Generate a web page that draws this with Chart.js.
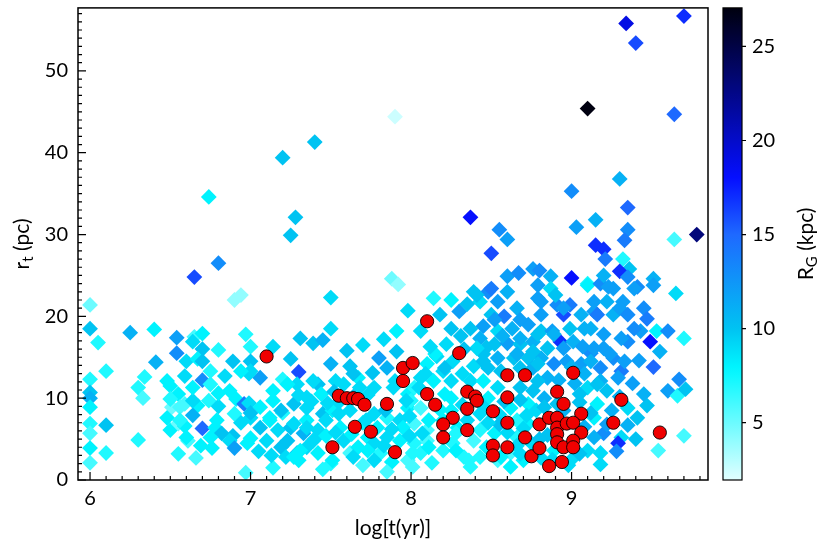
<!DOCTYPE html>
<html>
<head>
<meta charset="utf-8">
<script src="https://cdn.jsdelivr.net/npm/chart.js@4.4.0/dist/chart.umd.min.js"></script>
<style>
  html, body { margin: 0; padding: 0; background: #fff; }
  #wrap { width: 822px; height: 549px; }
</style>
</head>
<body>
<div id="wrap"><canvas id="c"></canvas></div>
<script>
'use strict';

// axis ticks
const X_TICKS = [6, 7, 8, 9];
const Y_TICKS = [0, 10, 20, 30, 40, 50];
const CB_TICKS = [5, 10, 15, 20, 25];

// field clusters: log age, tidal radius (pc), galactocentric radius (kpc)
const DIAMOND_LOGT = [
  7.90, 7.40, 7.20, 6.74, 7.28, 7.25, 6.80, 6.65, 7.88, 7.92,
  9.70, 9.34, 9.40, 9.10, 9.64, 9.30, 9.00, 8.37, 9.35, 9.15,
  8.55, 8.60, 9.03, 9.35, 9.33, 9.78, 9.64, 8.50, 9.15, 9.20,
  9.21, 9.32, 9.36, 9.30, 8.60, 8.67, 8.76, 8.80, 8.87, 9.00,
  9.51, 9.10, 7.50, 8.14, 6.94, 6.90, 6.00, 7.50, 6.97, 7.83,
  6.00, 6.05, 6.10, 6.00, 6.00, 6.00, 6.00, 6.00, 6.00, 6.00,
  6.00, 6.10, 6.10, 6.25, 6.40, 6.41, 6.34, 6.30, 6.33, 6.30,
  6.54, 6.54, 6.65, 6.70, 6.70, 6.80, 6.89, 6.60, 6.67, 6.75,
  6.70, 6.84, 6.50, 6.55, 6.59, 6.51, 6.67, 6.74, 6.80, 6.87,
  6.91, 6.90, 6.64, 6.70, 6.78, 6.82, 6.89, 6.50, 6.55, 6.59,
  6.61, 6.69, 6.76, 6.55, 6.66, 6.97, 7.00, 7.00, 7.00, 6.96,
  7.31, 7.39, 7.45, 7.14, 7.25, 7.30, 7.50, 7.06, 7.20, 7.14,
  7.29, 7.42, 7.35, 7.44, 7.06, 7.00, 7.12, 7.20, 7.27, 7.35,
  7.45, 7.06, 7.17, 7.25, 7.33, 7.42, 6.98, 7.10, 7.19, 7.35,
  7.42, 7.58, 7.56, 7.29, 7.30, 7.14, 7.62, 7.67, 7.73, 7.77,
  7.81, 7.85, 7.93, 7.79, 7.85, 7.77, 7.93, 7.98, 7.91, 7.80,
  7.85, 7.76, 7.67, 7.58, 7.68, 7.77, 7.89, 7.98, 7.62, 7.51,
  7.62, 7.70, 7.55, 7.64, 7.48, 7.22, 7.50, 7.88, 7.70, 7.40,
  8.18, 8.30, 8.39, 8.43, 8.48, 8.54, 8.60, 8.50, 8.58, 8.66,
  8.81, 8.87, 8.79, 8.91, 8.95, 8.73, 8.81, 8.88, 8.93, 8.63,
  8.54, 8.45, 8.37, 8.25, 8.43, 8.52, 8.60, 8.68, 8.76, 8.85,
  8.81, 8.89, 8.97, 8.73, 8.64, 8.54, 8.45, 8.39, 8.48, 8.56,
  8.76, 8.85, 8.16, 8.10, 8.20, 8.26, 8.06, 8.14, 8.25, 8.37,
  8.45, 8.54, 8.68, 8.76, 8.83, 8.91, 8.73, 8.62, 8.48, 8.25,
  8.02, 8.00, 8.06, 8.25, 8.43, 8.66, 8.73, 8.02, 8.10, 8.10,
  8.02, 8.29, 8.43, 8.39, 8.52, 8.66, 8.62, 8.70, 8.81, 8.26,
  8.20, 8.33, 8.37, 8.06, 7.98, 8.43, 8.54, 8.89, 8.32, 8.58,
  9.10, 9.18, 9.26, 9.41, 9.51, 9.65, 9.14, 9.22, 9.32, 8.99,
  9.06, 9.14, 9.26, 9.45, 9.47, 9.43, 9.53, 9.60, 9.70, 9.49,
  9.35, 9.20, 9.12, 8.99, 9.01, 9.12, 9.26, 9.06, 9.18, 9.51,
  9.31, 9.18, 9.10, 9.22, 9.67, 9.60, 9.66, 9.71, 9.47, 9.41,
  9.35, 9.35, 9.16, 9.14, 9.20, 9.31, 9.29, 9.14, 9.10, 9.70,
  9.54, 9.18, 9.05, 9.08, 9.00,
  6.64, 6.70, 6.48, 6.59, 6.75, 6.99, 6.94, 7.23, 7.39, 6.50,
  6.56, 6.64, 6.99, 7.14, 7.19, 7.35, 6.48, 6.56, 6.79, 6.94,
  7.00, 7.12, 7.27, 7.35, 6.60, 6.75, 6.87, 6.90, 7.00, 7.05,
  7.13, 7.23, 7.31, 7.39, 7.27, 7.64, 7.53, 7.90, 8.09, 8.21,
  8.15, 8.05, 7.97, 7.73, 7.84, 7.99, 8.11, 8.07, 7.95, 7.88,
  7.72, 7.55, 7.47, 7.47, 7.53, 7.63, 7.83, 7.99, 8.11, 8.01,
  7.73, 7.64, 7.51, 7.77, 8.01, 8.13, 8.28, 8.28, 8.20, 8.36,
  8.21, 8.32, 9.20, 9.35, 9.23, 9.39, 8.50, 8.41, 8.35, 8.52,
  8.79, 8.90, 8.95, 8.81, 8.68, 9.16, 9.30, 9.35, 9.39, 9.31,
  9.20, 9.08, 8.89, 8.79, 8.68, 8.57, 8.47, 8.41, 8.45, 8.66,
  8.76, 8.95, 9.07, 9.14, 9.24, 9.33, 9.12, 9.00, 8.79, 8.68,
  8.79, 8.92, 9.08, 9.29, 9.16, 8.45, 8.55, 8.68, 8.78, 8.70,
  8.55, 8.47, 8.60, 8.75, 8.68, 8.85, 8.95, 9.05, 9.12, 9.25,
  9.22, 9.28, 9.18, 9.05, 9.40, 9.45, 9.38, 8.98, 8.62, 7.98,
  8.06, 7.91, 8.12, 8.31, 8.25,
  8.66, 8.80, 8.72, 8.83, 8.56, 8.78, 8.88, 7.38, 7.52, 7.30,
  6.80, 6.64, 8.22, 8.33, 9.42, 9.55, 7.45, 7.85, 8.18, 8.35,
  7.60, 7.70, 9.02, 8.48, 9.30
];
const DIAMOND_RT = [
  44.4, 41.3, 39.4, 34.6, 32.1, 29.9, 26.5, 24.8, 24.6, 23.9,
  56.7, 55.8, 53.4, 45.4, 44.7, 36.8, 35.3, 32.1, 33.3, 31.8,
  30.6, 29.4, 30.9, 30.6, 29.3, 30.0, 29.4, 27.7, 28.7, 28.2,
  27.0, 27.0, 25.8, 25.5, 24.9, 25.3, 25.8, 25.6, 24.9, 24.7,
  24.6, 24.0, 22.3, 22.2, 22.6, 22.0, 21.4, 18.5, 17.8, 17.2,
  18.5, 16.8, 13.3, 12.3, 10.7, 10.0, 8.9, 6.9, 5.7, 3.9,
  2.1, 6.7, 3.3, 18.0, 18.4, 14.4, 12.6, 11.3, 10.0, 4.9,
  17.4, 15.5, 17.5, 17.9, 16.0, 15.9, 14.5, 14.5, 14.8, 13.3,
  12.2, 12.7, 11.5, 10.5, 9.3, 8.9, 9.1, 9.7, 9.0, 10.9,
  9.9, 8.1, 7.9, 6.3, 6.4, 5.7, 5.4, 6.1, 6.9, 6.6,
  4.8, 4.2, 3.9, 3.2, 2.7, 0.9, 16.3, 14.5, 13.3, 9.3,
  17.3, 16.7, 17.1, 16.3, 14.8, 13.2, 14.2, 12.5, 12.3, 10.9,
  11.7, 11.7, 10.1, 10.5, 8.9, 7.6, 7.6, 8.2, 9.3, 7.3,
  8.1, 6.4, 6.1, 6.4, 5.7, 6.1, 4.5, 4.8, 4.0, 4.0,
  3.3, 4.8, 6.4, 3.3, 2.4, 1.5, 3.3, 4.0, 5.2, 4.5,
  3.3, 5.2, 4.8, 6.4, 7.6, 8.1, 7.3, 8.8, 15.7, 14.9,
  13.7, 13.1, 12.5, 11.7, 11.3, 11.3, 11.3, 10.5, 13.9, 8.5,
  8.5, 7.0, 9.5, 10.2, 9.4, 2.8, 2.0, 2.2, 1.8, 5.0,
  20.2, 20.6, 23.0, 21.8, 23.0, 21.8, 23.0, 20.2, 20.0, 21.0,
  21.8, 23.4, 23.8, 21.4, 20.2, 19.0, 18.2, 18.2, 16.9, 18.5,
  18.2, 18.8, 18.5, 18.5, 17.3, 16.6, 16.7, 16.6, 16.9, 16.1,
  14.9, 14.2, 14.5, 14.9, 14.9, 14.9, 15.4, 13.9, 13.7, 13.3,
  13.7, 12.5, 15.1, 14.2, 13.3, 14.5, 12.5, 12.1, 12.1, 12.1,
  12.1, 11.3, 11.3, 10.9, 10.0, 9.3, 9.3, 8.8, 10.0, 10.0,
  11.3, 9.7, 8.8, 8.5, 8.1, 7.3, 6.9, 6.9, 6.1, 4.8,
  4.5, 6.4, 6.1, 4.8, 5.7, 5.2, 3.3, 2.4, 2.7, 4.5,
  3.6, 2.8, 1.6, 3.3, 2.4, 2.8, 2.4, 3.6, 9.2, 9.6,
  23.8, 24.0, 23.4, 23.6, 23.8, 22.8, 21.8, 21.8, 21.8, 21.4,
  20.2, 20.6, 20.2, 21.0, 19.7, 18.2, 18.2, 18.2, 17.3, 16.9,
  16.9, 16.1, 18.5, 18.5, 16.9, 15.5, 14.9, 14.2, 13.7, 13.8,
  13.3, 12.1, 11.3, 10.9, 12.3, 10.9, 10.3, 11.1, 9.1, 7.6,
  8.8, 6.7, 9.3, 7.6, 5.7, 5.2, 4.5, 5.2, 3.6, 5.4,
  3.6, 3.3, 9.5, 6.5, 2.5,
  16.9, 14.5, 12.1, 12.7, 11.7, 13.0, 13.3, 11.7, 12.1, 9.9,
  8.9, 9.7, 9.4, 9.7, 8.5, 8.8, 7.6, 7.3, 7.3, 7.0,
  8.2, 7.3, 6.9, 6.4, 5.2, 5.2, 4.8, 3.9, 5.1, 3.5,
  3.0, 4.8, 3.6, 4.8, 2.8, 13.0, 12.1, 12.1, 13.0, 13.7,
  15.4, 11.3, 9.7, 10.4, 8.5, 7.8, 7.3, 5.7, 6.4, 6.2,
  7.3, 8.1, 7.3, 5.4, 5.8, 5.6, 4.2, 5.4, 4.0, 3.3,
  3.6, 2.8, 2.4, 2.4, 1.6, 2.1, 3.6, 5.7, 7.3, 2.4,
  10.5, 13.0, 25.0, 24.8, 23.6, 23.4, 23.4, 22.6, 21.5, 19.6,
  22.2, 22.6, 21.0, 20.2, 19.6, 20.2, 21.0, 20.2, 18.5, 17.3,
  17.8, 18.5, 17.8, 17.8, 17.3, 17.6, 16.2, 16.1, 14.5, 15.4,
  15.7, 16.1, 16.3, 16.1, 15.4, 14.5, 14.5, 13.8, 14.2, 13.7,
  12.1, 12.2, 13.0, 12.5, 11.7, 9.0, 8.0, 9.8, 8.5, 6.3,
  6.8, 4.0, 5.8, 4.5, 3.2, 5.5, 8.5, 10.5, 8.2, 8.5,
  6.8, 3.5, 1.9, 3.2, 5.0, 10.5, 11.8, 1.8, 1.6, 20.7,
  18.2, 18.2, 16.3, 17.6, 22.0,
  4.2, 5.0, 7.9, 8.9, 2.8, 3.4, 2.5, 9.6, 10.8, 10.4,
  10.6, 11.3, 16.6, 16.0, 14.6, 15.7, 1.3, 1.0, 8.6, 7.3,
  15.8, 16.5, 11.8, 7.0, 10.2
];
const DIAMOND_RG = [
  2.5, 10, 10, 8, 10, 10, 13, 16, 5, 4,
  17, 19, 16, 27, 15, 11, 13, 18, 15, 11,
  13, 12, 12, 13, 14, 23, 6, 16, 17, 17,
  14, 7, 10, 17, 12, 13, 12, 13, 11, 18,
  11, 7, 9, 7, 4, 4, 5, 9, 7, 9,
  10, 7, 7, 7, 10, 11, 8, 7, 6, 8,
  6, 10, 7, 11, 8, 11, 7, 7, 6, 7,
  12, 13, 6, 8, 10, 7, 10, 9, 8, 7,
  13, 9, 8, 8, 6, 5, 8, 7, 9, 8,
  8, 7, 11, 15, 8, 10, 10, 8, 5, 8,
  6, 8, 8, 7, 6, 6, 7, 10, 9, 14,
  10, 10, 11, 9, 10, 16, 11, 12, 7, 8,
  9, 10, 9, 8, 8, 9, 8, 7, 10, 8,
  10, 10, 9, 10, 11, 9, 8, 9, 10, 9,
  8, 9, 8, 10, 8, 7, 6, 8, 8, 9,
  7, 9, 8, 8, 7, 9, 9, 8, 10, 12,
  11, 10, 8, 9, 9, 9, 9, 8, 10, 8,
  9, 8, 9, 10, 9, 9, 7, 8, 6, 9,
  10, 12, 10, 9, 13, 12, 11, 10, 14, 11,
  12, 9, 12, 13, 16, 12, 10, 12, 17, 11,
  9, 12, 10, 10, 11, 10, 12, 10, 11, 10,
  11, 13, 12, 10, 10, 11, 10, 9, 10, 10,
  11, 11, 9, 8, 9, 9, 9, 8, 9, 9,
  8, 9, 10, 10, 11, 10, 8, 8, 8, 8,
  7, 7, 6, 8, 9, 7, 8, 6, 6, 6,
  7, 8, 7, 6, 8, 7, 6, 8, 9, 7,
  7, 7, 7, 7, 6, 7, 6, 8, 9, 10,
  8, 13, 12, 13, 12, 9, 12, 11, 12, 14,
  11, 12, 11, 13, 14, 12, 8, 13, 7, 18,
  13, 12, 11, 10, 11, 13, 13, 12, 13, 15,
  14, 11, 9, 10, 13, 12, 7, 10, 10, 10,
  9, 11, 8, 8, 13, 9, 17, 11, 9, 6,
  6, 9, 10, 11, 9,
  9, 10, 8, 9, 7, 9, 8, 8, 9, 7,
  6, 9, 9, 8, 10, 9, 8, 7, 8, 9,
  10, 8, 9, 9, 8, 8, 9, 12, 8, 9,
  9, 10, 8, 9, 8, 10, 9, 9, 9, 10,
  8, 9, 9, 9, 10, 9, 8, 9, 8, 9,
  9, 9, 9, 8, 9, 8, 9, 9, 8, 7,
  8, 9, 8, 9, 6, 7, 8, 7, 8, 7,
  8, 9, 11, 13, 12, 12, 14, 10, 10, 12,
  12, 10, 12, 12, 12, 14, 12, 13, 13, 12,
  12, 11, 11, 10, 11, 11, 10, 9, 10, 11,
  10, 12, 12, 12, 12, 12, 11, 11, 10, 10,
  10, 11, 11, 12, 10, 9, 9, 10, 9, 9,
  10, 8, 9, 9, 9, 10, 11, 10, 10, 11,
  12, 13, 9, 10, 10, 11, 12, 9, 8, 9,
  9, 8, 9, 10, 8,
  9, 10, 9, 10, 8, 10, 9, 9, 10, 9,
  8, 8, 9, 10, 12, 11, 7, 6, 8, 9,
  10, 9, 11, 9, 11
];

// red circles: comparison sample
const CIRCLE_LOGT = [
  7.10, 7.51, 7.55, 7.60, 7.64, 7.67, 7.71, 7.65, 7.75, 7.85,
  7.90, 7.95, 7.95, 8.01, 8.10, 8.30, 8.10, 8.15, 8.35, 8.40,
  8.41, 8.35, 8.26, 8.20, 8.20, 8.35, 8.51, 8.60, 8.71, 8.60,
  8.60, 8.51, 8.51, 8.60, 8.71, 8.75, 8.80, 8.86, 8.80, 8.86,
  8.91, 8.91, 8.91, 8.91, 8.95, 8.94, 8.91, 8.95, 9.01, 8.97,
  9.06, 9.01, 9.06, 9.01, 9.01, 9.31, 9.26, 9.55
];
const CIRCLE_RT = [
  15.1, 4.0, 10.3, 10.0, 10.0, 9.9, 9.2, 6.5, 5.9, 9.3,
  3.4, 13.7, 12.1, 14.3, 19.4, 15.5, 10.5, 9.2, 10.8, 10.2,
  9.7, 8.7, 7.6, 6.8, 5.2, 6.1, 8.4, 12.8, 12.8, 10.1,
  7.0, 4.2, 3.0, 4.0, 5.2, 2.9, 3.9, 1.7, 6.8, 7.6,
  7.6, 6.4, 5.6, 4.6, 4.0, 2.2, 10.8, 9.3, 13.1, 6.9,
  8.1, 7.0, 5.8, 4.8, 4.0, 9.8, 7.0, 5.8
];

const RG_MIN = 1.95;
const RG_MAX = 27.05;

// colormap stops (value -> rgb)
const CMAP = [
  [1.95, [225, 255, 255]],
  [7.8, [0, 248, 255]],
  [10, [0, 195, 242]],
  [15, [30, 105, 255]],
  [18, [5, 15, 255]],
  [27.05, [0, 0, 15]]
];

function cmapRgb(v) {
  if (v <= CMAP[0][0]) return CMAP[0][1];
  for (let i = 1; i < CMAP.length; i++) {
    if (v <= CMAP[i][0]) {
      const [v0, c0] = CMAP[i - 1];
      const [v1, c1] = CMAP[i];
      const t = (v - v0) / (v1 - v0);
      return c0.map((c, k) => Math.round(c + (c1[k] - c) * t));
    }
  }
  return CMAP[CMAP.length - 1][1];
}
function cmapCss(v) {
  const c = cmapRgb(v);
  return `rgb(${c[0]},${c[1]},${c[2]})`;
}

const FONT = 'Lato, "DejaVu Sans", sans-serif';

const diamonds = DIAMOND_LOGT.map((x, i) => ({ x: x, y: DIAMOND_RT[i] }));
const circles = CIRCLE_LOGT.map((x, i) => ({ x: x, y: CIRCLE_RT[i] }));

function drawSubTitle(ctx, x, y, base, sub, rest, size) {
  ctx.save();
  ctx.translate(x, y);
  ctx.rotate(-Math.PI / 2);
  ctx.fillStyle = '#000';
  ctx.textBaseline = 'middle';
  ctx.textAlign = 'left';
  const big = `${size}px ${FONT}`;
  const small = `${Math.round(size * 0.72)}px ${FONT}`;
  ctx.font = big;
  const w1 = ctx.measureText(base).width;
  const w3 = ctx.measureText(rest).width;
  ctx.font = small;
  const w2 = ctx.measureText(sub).width;
  let cx = -(w1 + w2 + w3) / 2;
  ctx.font = big;
  ctx.fillText(base, cx, 0);
  cx += w1;
  ctx.font = small;
  ctx.fillText(sub, cx, size * 0.3);
  cx += w2;
  ctx.font = big;
  ctx.fillText(rest, cx, 0);
  ctx.restore();
}

const framePlugin = {
  id: 'frame',
  afterDraw(chart) {
    const ctx = chart.ctx;
    const a = chart.chartArea;
    const xs = chart.scales.x;
    const ys = chart.scales.y;
    const cb = chart.scales.cb;
    ctx.save();
    ctx.strokeStyle = '#000';
    ctx.lineWidth = 1.5;
    ctx.strokeRect(a.left, a.top, a.right - a.left, a.bottom - a.top);

    // inward ticks, bottom axis
    ctx.lineWidth = 1.2;
    ctx.beginPath();
    for (let i = 60; i <= 98; i++) {
      const px = xs.getPixelForValue(i / 10);
      const len = i % 10 === 0 ? 8 : 4;
      ctx.moveTo(px, a.bottom);
      ctx.lineTo(px, a.bottom - len);
    }
    // inward ticks, left axis
    for (let i = 0; i <= 57; i++) {
      const py = ys.getPixelForValue(i);
      const len = i % 10 === 0 ? 8 : 4;
      ctx.moveTo(a.left, py);
      ctx.lineTo(a.left + len, py);
    }
    ctx.stroke();

    // colour bar
    const barL = cb.left + 15;
    const barW = 19;
    const yTop = cb.getPixelForValue(RG_MAX);
    const yBot = cb.getPixelForValue(RG_MIN);
    const grad = ctx.createLinearGradient(0, yBot, 0, yTop);
    for (let i = 0; i <= 50; i++) {
      const v = RG_MIN + (RG_MAX - RG_MIN) * i / 50;
      grad.addColorStop(i / 50, cmapCss(v));
    }
    ctx.fillStyle = grad;
    ctx.fillRect(barL, yTop, barW, yBot - yTop);
    ctx.lineWidth = 1.2;
    ctx.strokeRect(barL, yTop, barW, yBot - yTop);
    ctx.beginPath();
    CB_TICKS.forEach(v => {
      const py = cb.getPixelForValue(v);
      ctx.moveTo(barL + barW, py);
      ctx.lineTo(barL + barW + 4, py);
    });
    ctx.stroke();
    ctx.restore();

    drawSubTitle(ctx, 22, (a.top + a.bottom) / 2, 'r', 't', ' (pc)', 21);
    drawSubTitle(ctx, 806, (a.top + a.bottom) / 2, 'R', 'G', ' (kpc)', 21);
  }
};

new Chart(document.getElementById('c'), {
  type: 'scatter',
  data: {
    datasets: [
      {
        label: 'circles',
        data: circles,
        pointStyle: 'circle',
        pointRadius: 6.6,
        pointBackgroundColor: '#f00000',
        pointBorderColor: '#000',
        pointBorderWidth: 0.9
      },
      {
        label: 'diamonds',
        data: diamonds,
        pointStyle: 'rectRot',
        pointRadius: 7.9,
        pointBackgroundColor: DIAMOND_RG.map(cmapCss),
        pointBorderWidth: 0
      }
    ]
  },
  options: {
    responsive: true,
    maintainAspectRatio: false,
    animation: false,
    events: [],
    layout: { padding: { top: 3, left: 0, right: 0, bottom: 0 } },
    plugins: {
      legend: { display: false },
      tooltip: { enabled: false }
    },
    scales: {
      x: {
        type: 'linear',
        position: 'bottom',
        min: 5.925,
        max: 9.85,
        afterBuildTicks: s => { s.ticks = X_TICKS.map(v => ({ value: v })); },
        afterFit: s => { s.height = 69; s.paddingLeft = 0; s.paddingRight = 0; },
        grid: { display: false, drawTicks: false },
        border: { display: false },
        ticks: { color: '#000', font: { family: FONT, size: 20 }, padding: 7 },
        title: {
          display: true,
          text: 'log[t(yr)]',
          color: '#000',
          font: { family: FONT, size: 21 },
          padding: { top: 2, bottom: 8 }
        }
      },
      y: {
        type: 'linear',
        position: 'left',
        min: 0,
        max: 57.7,
        afterBuildTicks: s => { s.ticks = Y_TICKS.map(v => ({ value: v })); },
        afterFit: s => { s.width = 78; s.paddingTop = 0; s.paddingBottom = 0; },
        grid: { display: false, drawTicks: false },
        border: { display: false },
        ticks: { color: '#000', font: { family: FONT, size: 20 }, padding: 10 }
      },
      cb: {
        type: 'linear',
        position: 'right',
        min: RG_MIN,
        max: RG_MAX,
        afterBuildTicks: s => { s.ticks = CB_TICKS.map(v => ({ value: v })); },
        afterFit: s => { s.width = 114; s.paddingTop = 0; s.paddingBottom = 0; },
        grid: { display: false, drawTicks: false },
        border: { display: false },
        ticks: { color: '#000', font: { family: FONT, size: 20 }, padding: 44 }
      }
    }
  },
  plugins: [framePlugin]
});
</script>
</body>
</html>
